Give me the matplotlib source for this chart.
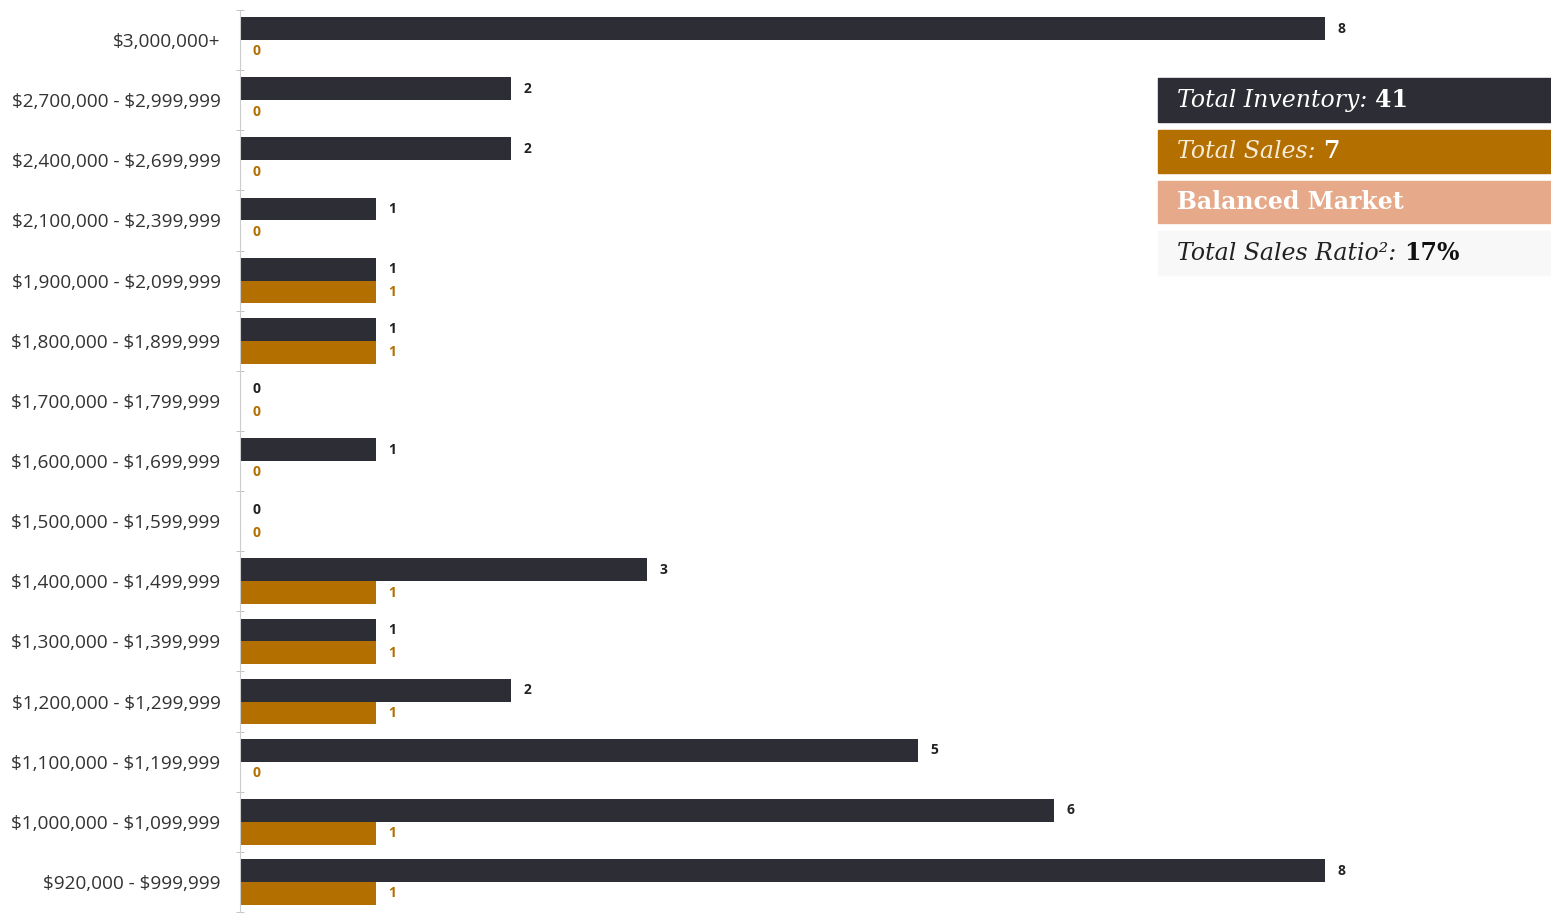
import matplotlib.pyplot as plt
import numpy as np

categories = [
  "$3,000,000+",
  "$2,700,000 - $2,999,999",
  "$2,400,000 - $2,699,999",
  "$2,100,000 - $2,399,999",
  "$1,900,000 - $2,099,999",
  "$1,800,000 - $1,899,999",
  "$1,700,000 - $1,799,999",
  "$1,600,000 - $1,699,999",
  "$1,500,000 - $1,599,999",
  "$1,400,000 - $1,499,999",
  "$1,300,000 - $1,399,999",
  "$1,200,000 - $1,299,999",
  "$1,100,000 - $1,199,999",
  "$1,000,000 - $1,099,999",
  "$920,000 - $999,999",
]
inventory = [8, 2, 2, 1, 1, 1, 0, 1, 0, 3, 1, 2, 5, 6, 8]
sales = [0, 0, 0, 0, 1, 1, 0, 0, 0, 1, 1, 1, 0, 1, 1]

DARK = "#2d2d35"
ORANGE = "#b36f00"
PEACH = "#e6aa8a"

plt.rcParams["text.parse_math"] = False

fig = plt.figure(figsize=(15.51, 9.14), dpi=100)
ax = fig.add_axes([240 / 1551, 2 / 914, 1311 / 1551, 902 / 914])

n = len(categories)
y = np.arange(n)
h = 0.38
ax.barh(y - h / 2, inventory, height=h, color=DARK)
ax.barh(y + h / 2, sales, height=h, color=ORANGE)

for i in range(n):
  ax.annotate(str(inventory[i]), (inventory[i], y[i] - h / 2), xytext=(9, 0),
              textcoords="offset points", va="center", ha="left",
              fontsize=10, fontweight="bold", color="#222222", family="Open Sans")
  ax.annotate(str(sales[i]), (sales[i], y[i] + h / 2), xytext=(9, 0),
              textcoords="offset points", va="center", ha="left",
              fontsize=10, fontweight="bold", color=ORANGE, family="Open Sans")

ax.set_xlim(0, 1311 / 135.6)
ax.set_ylim(n - 0.5, -0.5)
ax.set_yticks(y)
ax.set_yticklabels(categories, fontsize=13.7, family="Open Sans", color="#333333")
ax.set_yticks(np.arange(n + 1) - 0.5, minor=True)
ax.tick_params(axis="y", which="major", length=0, pad=14)
ax.tick_params(axis="y", which="minor", length=6, direction="inout", color="#bbbbbb")
ax.set_xticks([])
for s in ["top", "right", "bottom"]:
  ax.spines[s].set_visible(False)
ax.spines["left"].set_color("#cccccc")

# summary boxes on the right
boxes = [
  (78, 122, DARK, [("Total Inventory: ", "italic", "normal", "white"), ("41", "normal", "bold", "white")]),
  (130, 173, ORANGE, [("Total Sales: ", "italic", "normal", "#f7ecd8"), ("7", "normal", "bold", "white")]),
  (181, 223, PEACH, [("Balanced Market", "normal", "bold", "white")]),
  (231, 275, "#f8f8f8", [("Total Sales Ratio²: ", "italic", "normal", "#222222"), ("17%", "normal", "bold", "#111111")]),
]
x0 = 1158 / 1551
for top, bot, col, parts in boxes:
  fig.patches.append(plt.Rectangle((x0, 1 - bot / 914), 1 - x0, (bot - top) / 914,
                                   transform=fig.transFigure, color=col, zorder=0))
  xt = 1177 / 1551
  yc = 1 - (top + bot) / 2 / 914
  for txt, style, weight, c in parts:
    t = fig.text(xt, yc, txt, fontsize=17, family="DejaVu Serif", style=style,
                 fontweight=weight, color=c, va="center", ha="left")
    fig.canvas.draw()
    bb = t.get_window_extent()
    xt = bb.x1 / fig.bbox.width

fig.savefig("out.png", dpi=100)
